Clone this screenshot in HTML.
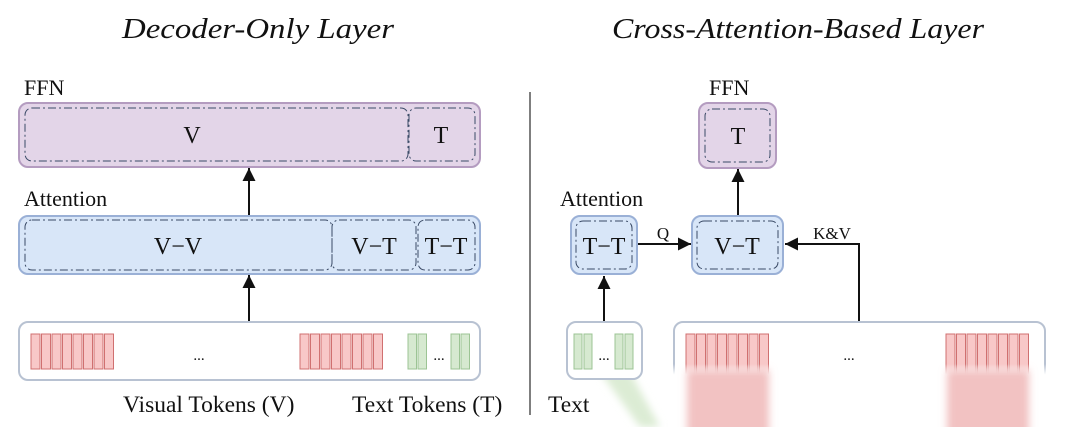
<!DOCTYPE html>
<html><head><meta charset="utf-8"><style>
html,body{margin:0;padding:0;background:#fff;}
svg{display:block;}
text{font-family:"Liberation Serif",serif;fill:#111;}
</style></head><body>
<svg width="1080" height="427" viewBox="0 0 1080 427" xmlns="http://www.w3.org/2000/svg">
<defs>
<marker id="ah" markerWidth="14" markerHeight="14" refX="13" refY="6.5" orient="auto" markerUnits="userSpaceOnUse"><path d="M0,0 L13,6.5 L0,13 z" fill="#111"/></marker>
<filter id="bl" x="-20%" y="-20%" width="140%" height="140%"><feGaussianBlur stdDeviation="4"/></filter>
<linearGradient id="fade" x1="0" y1="0" x2="0" y2="1"><stop offset="0" stop-color="#fff" stop-opacity="0"/><stop offset="0.15" stop-color="#fff" stop-opacity="1"/></linearGradient>
</defs>
<text x="258" y="38" font-size="28" font-style="italic" text-anchor="middle" textLength="272" lengthAdjust="spacingAndGlyphs">Decoder-Only  Layer</text>
<text x="798" y="38" font-size="28" font-style="italic" text-anchor="middle" textLength="372" lengthAdjust="spacingAndGlyphs">Cross-Attention-Based Layer</text>
<line x1="530" y1="92" x2="530" y2="415" stroke="#555" stroke-width="1.5"/>
<!-- Left -->
<text x="24" y="95" font-size="22">FFN</text>
<rect x="19" y="103" width="461" height="64" rx="9" fill="#e3d5e8" stroke="#b49cc0" stroke-width="2"/>
<rect x="25" y="108" width="383" height="53" rx="7" fill="none" stroke="#3a4a66" stroke-dasharray="8,3,2,3"/>
<rect x="409" y="108" width="66" height="53" rx="7" fill="none" stroke="#3a4a66" stroke-dasharray="8,3,2,3"/>
<text x="192" y="143" font-size="24" text-anchor="middle">V</text>
<text x="441" y="143" font-size="24" text-anchor="middle">T</text>
<line x1="249" y1="215" x2="249" y2="168" stroke="#111" stroke-width="2" marker-end="url(#ah)"/>
<text x="24" y="206" font-size="22">Attention</text>
<rect x="19" y="216" width="461" height="58" rx="9" fill="#d8e6f8" stroke="#9ab0d6" stroke-width="2"/>
<rect x="25" y="220" width="307" height="50" rx="7" fill="none" stroke="#3a4a66" stroke-dasharray="8,3,2,3"/>
<rect x="332" y="220" width="84" height="50" rx="7" fill="none" stroke="#3a4a66" stroke-dasharray="8,3,2,3"/>
<rect x="418" y="220" width="57" height="50" rx="7" fill="none" stroke="#3a4a66" stroke-dasharray="8,3,2,3"/>
<text x="178" y="254" font-size="24" text-anchor="middle">V−V</text>
<text x="374" y="254" font-size="24" text-anchor="middle">V−T</text>
<text x="446" y="254" font-size="24" text-anchor="middle">T−T</text>
<line x1="249" y1="322" x2="249" y2="275" stroke="#111" stroke-width="2" marker-end="url(#ah)"/>
<rect x="19" y="322" width="461" height="58" rx="9" fill="#fff" stroke="#b8c2d2" stroke-width="2"/>
<g fill="#f8c8c8" stroke="#d07070" stroke-width="1">
<rect x="31" y="334" width="9" height="35"/><rect x="41.5" y="334" width="9" height="35"/><rect x="52" y="334" width="9" height="35"/><rect x="62.5" y="334" width="9" height="35"/><rect x="73" y="334" width="9" height="35"/><rect x="83.5" y="334" width="9" height="35"/><rect x="94" y="334" width="9" height="35"/><rect x="104.5" y="334" width="9" height="35"/>
<rect x="300" y="334" width="9" height="35"/><rect x="310.5" y="334" width="9" height="35"/><rect x="321" y="334" width="9" height="35"/><rect x="331.5" y="334" width="9" height="35"/><rect x="342" y="334" width="9" height="35"/><rect x="352.5" y="334" width="9" height="35"/><rect x="363" y="334" width="9" height="35"/><rect x="373.5" y="334" width="9" height="35"/>
</g>
<g fill="#d6e9d0" stroke="#9cc494" stroke-width="1">
<rect x="408" y="334" width="8.5" height="35"/><rect x="418" y="334" width="8.5" height="35"/>
<rect x="451" y="334" width="8.5" height="35"/><rect x="461" y="334" width="8.5" height="35"/>
</g>
<text x="199" y="360" font-size="15" text-anchor="middle">...</text>
<text x="439" y="360" font-size="15" text-anchor="middle">...</text>
<text x="123" y="412" font-size="23.5">Visual Tokens (V)</text>
<text x="352" y="412" font-size="23.5">Text Tokens (T)</text>
<!-- Right -->
<text x="709" y="95" font-size="22">FFN</text>
<rect x="699" y="103" width="77" height="65" rx="9" fill="#e3d5e8" stroke="#b49cc0" stroke-width="2"/>
<rect x="705" y="109" width="65" height="53" rx="7" fill="none" stroke="#3a4a66" stroke-dasharray="8,3,2,3"/>
<text x="738" y="144" font-size="24" text-anchor="middle">T</text>
<line x1="738" y1="216" x2="738" y2="169" stroke="#111" stroke-width="2" marker-end="url(#ah)"/>
<text x="560" y="206" font-size="22">Attention</text>
<rect x="571" y="216" width="66" height="58" rx="9" fill="#d8e6f8" stroke="#9ab0d6" stroke-width="2"/>
<rect x="576" y="221" width="56" height="48" rx="7" fill="none" stroke="#3a4a66" stroke-dasharray="8,3,2,3"/>
<text x="604" y="254" font-size="24" text-anchor="middle">T−T</text>
<rect x="692" y="216" width="91" height="58" rx="9" fill="#d8e6f8" stroke="#9ab0d6" stroke-width="2"/>
<rect x="697" y="221" width="81" height="48" rx="7" fill="none" stroke="#3a4a66" stroke-dasharray="8,3,2,3"/>
<text x="737" y="254" font-size="24" text-anchor="middle">V−T</text>
<line x1="638" y1="244" x2="691" y2="244" stroke="#111" stroke-width="2" marker-end="url(#ah)"/>
<text x="663" y="239" font-size="17" text-anchor="middle">Q</text>
<polyline points="859,322 859,244 785,244" fill="none" stroke="#111" stroke-width="2" marker-end="url(#ah)"/>
<text x="832" y="239" font-size="17" text-anchor="middle">K&amp;V</text>
<line x1="604" y1="322" x2="604" y2="276" stroke="#111" stroke-width="2" marker-end="url(#ah)"/>
<rect x="674" y="322" width="371" height="120" rx="9" fill="#fff" stroke="#b8c2d2" stroke-width="2"/>
<text x="849" y="360" font-size="15" text-anchor="middle">...</text>
<g fill="#f8c8c8" stroke="#d07070" stroke-width="1">
<rect x="686" y="334" width="9" height="45"/><rect x="696.5" y="334" width="9" height="45"/><rect x="707" y="334" width="9" height="45"/><rect x="717.5" y="334" width="9" height="45"/><rect x="728" y="334" width="9" height="45"/><rect x="738.5" y="334" width="9" height="45"/><rect x="749" y="334" width="9" height="45"/><rect x="759.5" y="334" width="9" height="45"/>
<rect x="946" y="334" width="9" height="45"/><rect x="956.5" y="334" width="9" height="45"/><rect x="967" y="334" width="9" height="45"/><rect x="977.5" y="334" width="9" height="45"/><rect x="988" y="334" width="9" height="45"/><rect x="998.5" y="334" width="9" height="45"/><rect x="1009" y="334" width="9" height="45"/><rect x="1019.5" y="334" width="9" height="45"/>
</g>
<rect x="644" y="364" width="436" height="70" fill="url(#fade)"/>
<g filter="url(#bl)">
<rect x="687" y="370" width="82" height="70" fill="#f2c2c2"/>
<rect x="947" y="370" width="82" height="70" fill="#f2c2c2"/>
<polygon points="600,372 630,372 660,427 640,427" fill="#dcecd4"/>
</g>
<rect x="567" y="322" width="75" height="57" rx="9" fill="#fff" stroke="#b8c2d2" stroke-width="2"/>
<g fill="#d6e9d0" stroke="#9cc494" stroke-width="1">
<rect x="574" y="334" width="8" height="35"/><rect x="584" y="334" width="8" height="35"/>
<rect x="615" y="334" width="8" height="35"/><rect x="625" y="334" width="8" height="35"/>
</g>
<text x="604" y="360" font-size="15" text-anchor="middle">...</text>
<text x="548" y="412" font-size="23.5">Text</text>
</svg>
</body></html>
